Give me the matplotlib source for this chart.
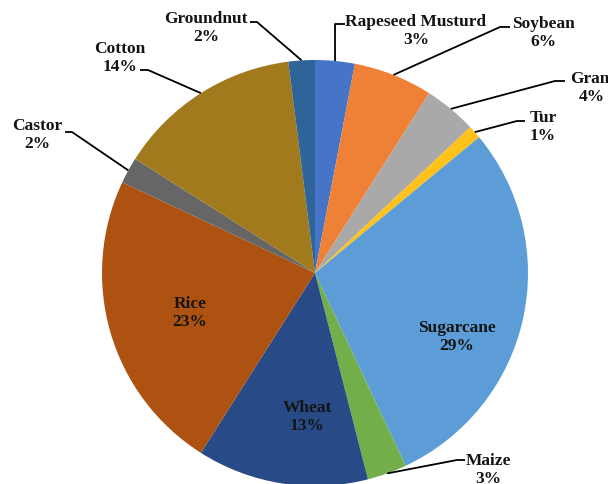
import matplotlib
matplotlib.use("Agg")
import matplotlib.pyplot as plt
import numpy as np

crops = ["Rapeseed Musturd", "Soybean", "Gram", "Tur", "Sugarcane", "Maize",
         "Wheat", "Rice", "Castor", "Cotton", "Groundnut"]
shares = [3, 6, 4, 1, 29, 3, 13, 23, 2, 14, 2]
colors = ["#4674C6", "#EF8136", "#A9A9A9", "#FFC21A", "#5C9DD8", "#72AE49",
          "#284A86", "#AD5210", "#666666", "#A07A1C", "#2E6497"]

# pie centre / radius in pixels of the 608x485 canvas
CX, CY, R = 315, 274, 213
W, H = 608, 485


def to_data(px, py):
    return (px - CX) / R, (CY - py) / R


# label block centres (px)
label_pos = {
    "Rapeseed Musturd": (416, 31),
    "Soybean": (543, 33),
    "Gram": (592, 88),
    "Tur": (543, 127),
    "Sugarcane": (457, 337),
    "Maize": (488, 470),
    "Wheat": (307, 417),
    "Rice": (190, 313),
    "Castor": (37, 135),
    "Cotton": (120, 58),
    "Groundnut": (206, 28),
}
# leader: elbow point and end of the short horizontal tick (px)
leaders = {
    "Rapeseed Musturd": ((335, 25), 345),
    "Soybean": ((500, 28), 510),
    "Gram": ((555, 82), 565),
    "Tur": ((517, 122), 525),
    "Maize": ((457, 461), 465),
    "Castor": ((72, 133), 65),
    "Cotton": ((148, 71), 140),
    "Groundnut": ((257, 23), 250),
}

plt.rcParams["font.family"] = ["Liberation Serif", "DejaVu Serif"]

fig = plt.figure(figsize=(W / 100, H / 100), dpi=100)
ax = fig.add_axes([(CX - R) / W, (H - CY - R) / H, 2 * R / W, 2 * R / H])

wedges, _ = ax.pie(shares, colors=colors, startangle=90, counterclock=False,
                   radius=1, center=(0, 0), frame=True,
                   wedgeprops=dict(linewidth=0))
ax.set_xlim(-1, 1)
ax.set_ylim(-1, 1)
ax.axis("off")

for w, name, val in zip(wedges, crops, shares):
    tx, ty = to_data(*label_pos[name])
    ax.text(tx, ty, f"{name}\n{val}%", ha="center", va="center",
            fontsize=12.5, fontweight="bold", color="#141414",
            linespacing=1.15, clip_on=False)
    if name in leaders:
        mid = np.deg2rad((w.theta1 + w.theta2) / 2)
        ax_, ay_ = np.cos(mid), np.sin(mid)
        (ex, ey), endx = leaders[name]
        ex, ey = to_data(ex, ey)
        endx, _ = to_data(endx, 0)
        ax.plot([ax_, ex, endx], [ay_, ey, ey], color="black", lw=1.3,
                clip_on=False, solid_capstyle="butt")

fig.savefig("out.png", dpi=100)
